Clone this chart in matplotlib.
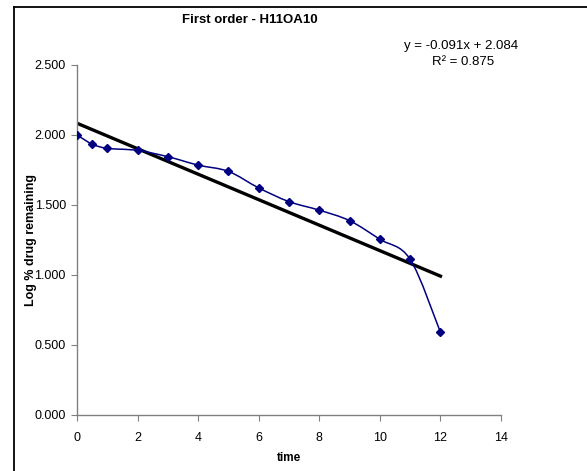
#!/usr/bin/env python3
"""First order plot - log % drug remaining vs time, with linear trendline."""

import matplotlib
matplotlib.use("Agg")
import matplotlib.pyplot as plt
from matplotlib.lines import Line2D
from matplotlib.path import Path
from matplotlib.patches import PathPatch
import numpy as np

time = [0, 0.5, 1, 2, 3, 4, 5, 6, 7, 8, 9, 10, 11, 12]
log_remaining = [2.000, 1.935, 1.905, 1.890, 1.845, 1.785, 1.740, 1.622,
                 1.524, 1.463, 1.388, 1.255, 1.112, 0.591]
slope = -0.091
intercept = 2.084
r_squared = 0.875
x_ticks = [0, 2, 4, 6, 8, 10, 12, 14]
y_ticks = [0.0, 0.5, 1.0, 1.5, 2.0, 2.5]

plt.rcParams["font.family"] = ["Liberation Sans", "DejaVu Sans"]

fig = plt.figure(figsize=(5.87, 4.71), dpi=100)
ax = fig.add_axes([0.1312, 0.1189, 0.8535 - 0.1312, 0.862 - 0.1189])

# chart-area border (left and top only visible in the crop)
fig.add_artist(Line2D([14 / 587, 14 / 587], [0, 1 - 7 / 471], transform=fig.transFigure,
                      color="black", linewidth=1.3))
fig.add_artist(Line2D([14 / 587, 1], [1 - 7 / 471, 1 - 7 / 471], transform=fig.transFigure,
                      color="black", linewidth=1.3))

# smoothed data line (Catmull-Rom style bezier through the points)
x = np.array(time, dtype=float)
y = np.array(log_remaining, dtype=float)
verts = [(x[0], y[0])]
codes = [Path.MOVETO]
n = len(x)
for i in range(n - 1):
    p0 = (x[i - 1], y[i - 1]) if i > 0 else (x[i], y[i])
    p3 = (x[i + 2], y[i + 2]) if i + 2 < n else (x[i + 1], y[i + 1])
    p1 = (x[i], y[i])
    p2 = (x[i + 1], y[i + 1])
    c1 = (p1[0] + (p2[0] - p0[0]) / 6, p1[1] + (p2[1] - p0[1]) / 6)
    c2 = (p2[0] - (p3[0] - p1[0]) / 6, p2[1] - (p3[1] - p1[1]) / 6)
    verts += [c1, c2, p2]
    codes += [Path.CURVE4] * 3
ax.add_patch(PathPatch(Path(verts, codes), facecolor="none", edgecolor="#000080",
                       linewidth=1.1, zorder=3))
ax.plot(time, log_remaining, linestyle="none", marker="D", markersize=4.5,
        color="#000080", zorder=4)

# linear trendline
tx = np.array([time[0], 12])
ax.plot(tx, slope * tx + intercept, color="black", linewidth=2.4, zorder=2)

ax.set_xlim(0, 14)
ax.set_ylim(0, 2.5)
ax.set_xticks(x_ticks)
ax.set_yticks(y_ticks)
ax.set_yticklabels([f"{v:.3f}" for v in y_ticks])
for side in ("top", "right"):
    ax.spines[side].set_visible(False)
for side in ("left", "bottom"):
    ax.spines[side].set_color("#808080")
    ax.spines[side].set_linewidth(1.0)
ax.tick_params(direction="out", length=4, color="#808080", labelsize=9)
ax.tick_params(axis="x", pad=8)
ax.tick_params(axis="y", pad=4)

ax.set_xlabel("time", fontsize=8.5, fontweight="bold")
ax.xaxis.set_label_coords(0.5, -37 / 350, transform=ax.transAxes)
ax.set_ylabel("Log % drug remaining", fontsize=9, fontweight="bold")
ax.yaxis.set_label_coords(-40 / 424, 0.5, transform=ax.transAxes)
fig.text(250 / 587, 1 - 20 / 471, "First order - H11OA10", ha="center", va="center",
         fontsize=9.5, fontweight="bold")
fig.text(461 / 587, 1 - 46 / 471, f"y = {slope:.3f}x + {intercept:.3f}", ha="center",
         va="center", fontsize=9.5)
fig.text(463 / 587, 1 - 62 / 471, f"R² = {r_squared:.3f}", ha="center", va="center",
         fontsize=9.5)

fig.savefig("out.png", dpi=100)
